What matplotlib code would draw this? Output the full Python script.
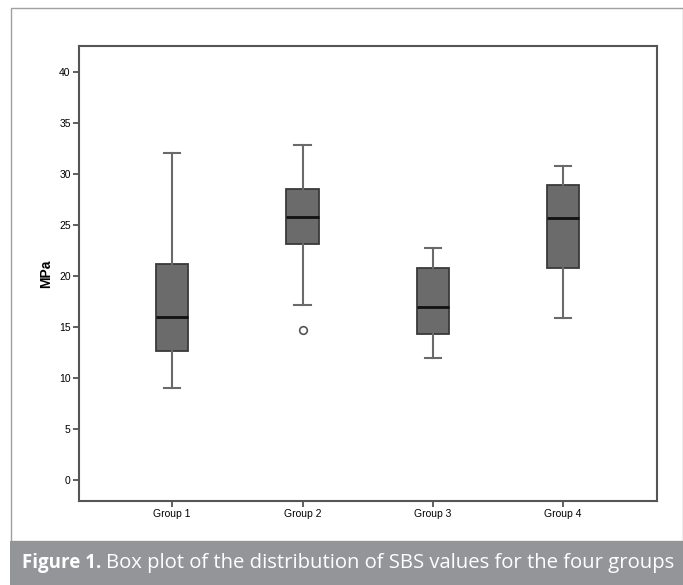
import matplotlib
matplotlib.use("Agg")
import matplotlib.pyplot as plt
from matplotlib.patches import Rectangle

groups = ["Group 1", "Group 2", "Group 3", "Group 4"]
whisker_low = [9.0, 17.1, 11.9, 15.8]
q1 = [12.6, 23.1, 14.3, 20.7]
median = [15.9, 25.7, 16.9, 25.6]
q3 = [21.1, 28.5, 20.7, 28.9]
whisker_high = [32.0, 32.8, 22.7, 30.7]
outliers = [[], [14.7], [], []]
yticks = [0, 5, 10, 15, 20, 25, 30, 35, 40]

fig = plt.figure(figsize=(6.83, 5.85), dpi=100)
W, H = 683, 585

# outer light border
fig.add_artist(Rectangle((11/W, 1 - 541/H), (683 - 11)/W, (541 - 8)/H, transform=fig.transFigure,
                         fill=False, edgecolor="#a0a0a0", linewidth=1.0))
# caption band
fig.add_artist(Rectangle((10/W, 0), (683 - 10)/W, (585 - 541)/H, transform=fig.transFigure,
                         facecolor="#939598", edgecolor="none"))

ax = fig.add_axes([79/W, 1 - 501/H, (657 - 79)/W, (501 - 46)/H])

stats = []
for i, g in enumerate(groups):
    stats.append(dict(label=g, whislo=whisker_low[i], q1=q1[i], med=median[i],
                      q3=q3[i], whishi=whisker_high[i], fliers=outliers[i]))

ax.bxp(stats, positions=[1, 2, 3, 4], widths=0.25, patch_artist=True,
       boxprops=dict(facecolor="#6b6b6b", edgecolor="#3a3a3a", linewidth=1.3),
       medianprops=dict(color="#111111", linewidth=2.0),
       whiskerprops=dict(color="#6a6a6a", linewidth=1.5),
       capprops=dict(color="#6a6a6a", linewidth=1.5),
       flierprops=dict(marker="o", markerfacecolor="white", markeredgecolor="#555555",
                       markersize=5.5, markeredgewidth=1.2),
       capwidths=0.125)

ax.set_xlim(0.285, 4.72)
ax.set_ylim(-2.1, 42.5)
ax.set_yticks(yticks)
ax.set_yticklabels([str(t) for t in yticks], fontsize=7.5, family="Liberation Sans")
ax.set_xticks([1, 2, 3, 4])
ax.set_xticklabels(groups, fontsize=7.5, family="Liberation Sans")
ax.tick_params(axis="both", direction="out", length=4, width=1.2, color="#444444", pad=2)
for s in ax.spines.values():
    s.set_color("#555555")
    s.set_linewidth(1.5)
ax.set_ylabel("MPa", fontsize=10, fontweight="bold", family="Liberation Sans", labelpad=4)

t1 = fig.text(22/W, 1 - 563/H, "Figure 1.", color="white", fontsize=13.5, fontweight="bold",
              family="Open Sans", va="center", ha="left")
fig.canvas.draw()
bb = t1.get_window_extent(renderer=fig.canvas.get_renderer())
x_end = bb.x1 / fig.bbox.width
t2 = fig.text(x_end + 5/W, 1 - 563/H, "Box plot of the distribution of SBS values for the four groups",
              color="white", fontsize=13.5, family="Open Sans", va="center", ha="left")
fig.canvas.draw()
bb2 = t2.get_window_extent(renderer=fig.canvas.get_renderer())
target = 675 - (x_end * W + 5)
scale = target / bb2.width
t2.set_fontsize(13.5 * scale)

fig.savefig("out.png", dpi=100)
